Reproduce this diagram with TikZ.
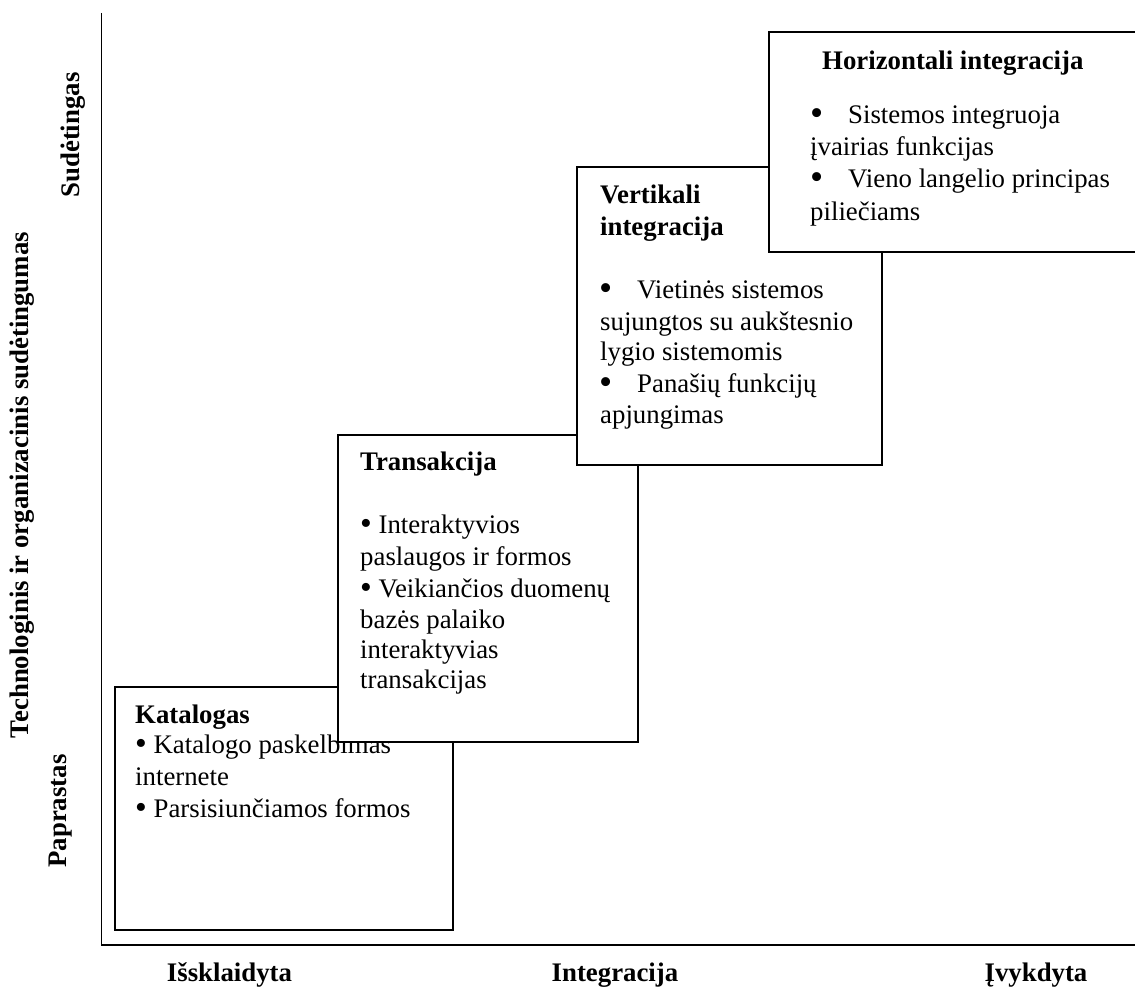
\documentclass[tikz,border=0pt]{standalone}
\usepackage{fontspec}
\setmainfont{Liberation Serif}
\newcommand\bodyfont{\fontsize{26.8}{31}\selectfont}
\newcommand\bul{\raisebox{-0.06em}{\scalebox{1.25}{•}}}
\newcommand\tabbul{\makebox[38pt][l]{\raisebox{-0.08em}{\scalebox{1.4}{•}}}}
\begin{document}
\begin{tikzpicture}[x=1pt,y=-1pt,
  panel/.style={draw=black, fill=white, line width=1.8pt, inner sep=0pt, outer sep=0pt, anchor=north west},
  txt/.style={anchor=base west, inner sep=0pt, font=\bodyfont},
  hd/.style={anchor=base west, inner sep=0pt, font=\bodyfont\bfseries},
  axlab/.style={anchor=base, inner sep=0pt, font=\bodyfont\bfseries},
  axisline/.style={line width=1.8pt}]
\useasboundingbox (0,0) rectangle (1135,990);
% axes
\coordinate (o) at (101.5,945);
\coordinate (ytop) at (101.5,13);
\coordinate (xend) at (1140,945);
\draw[axisline] (ytop) -- (o) -- (xend);
% Katalogas
\node[panel, minimum width=338pt, minimum height=243pt] (kat) at (115,687) {};
\node[hd]  (k0) at (135,723) {Katalogas};
\node[txt] (k1) at (135,753) {\bul{} Katalogo paskelbimas};
\node[txt] (k2) at (135,785) {internete};
\node[txt] (k3) at (135,817) {\bul{} Parsisiunčiamos formos};
% Transakcija
\node[panel, minimum width=300pt, minimum height=307pt] (tra) at (338,435) {};
\node[hd]  (t0) at (360,470) {Transakcija};
\node[txt] (t1) at (360,533) {\bul{} Interaktyvios};
\node[txt] (t2) at (360,565) {paslaugos ir formos};
\node[txt] (t3) at (360,597) {\bul{} Veikiančios duomenų};
\node[txt] (t4) at (360,628) {bazės palaiko};
\node[txt] (t5) at (360,658) {interaktyvias};
\node[txt] (t6) at (360,688) {transakcijas};
% Vertikali integracija
\node[panel, minimum width=305pt, minimum height=298pt] (ver) at (577,167) {};
\node[hd]  (v0) at (600,203) {Vertikali};
\node[hd]  (v1) at (600,235) {integracija};
\node[txt] (v2) at (599,298) {\tabbul Vietinės sistemos};
\node[txt] (v3) at (600,330) {sujungtos su aukštesnio};
\node[txt] (v4) at (600,360) {lygio sistemomis};
\node[txt] (v5) at (599,392) {\tabbul Panašių funkcijų};
\node[txt] (v6) at (600,423) {apjungimas};
% Horizontali integracija
\node[panel, minimum width=375pt, minimum height=220pt] (hor) at (769,32) {};
\node[hd]  (h0) at (822,70) {Horizontali integracija};
\node[txt] (h1) at (810,123) {\tabbul Sistemos integruoja};
\node[txt] (h2) at (810,155) {įvairias funkcijas};
\node[txt] (h3) at (810,187) {\tabbul Vieno langelio principas};
\node[txt] (h4) at (810,220) {piliečiams};
% axis labels
\node[axlab] (xl1) at (229.5,981) {Išsklaidyta};
\node[axlab] (xl2) at (615,981) {Integracija};
\node[axlab] (xl3) at (1036,981) {Įvykdyta};
\node[axlab, rotate=90] (yl1) at (79,135) {Sudėtingas};
\node[axlab, rotate=90] (yl2) at (66,811) {Paprastas};
\node[axlab, rotate=90] (yl3) at (28,485) {Technologinis ir organizacinis sudėtingumas};
\end{tikzpicture}
\end{document}
